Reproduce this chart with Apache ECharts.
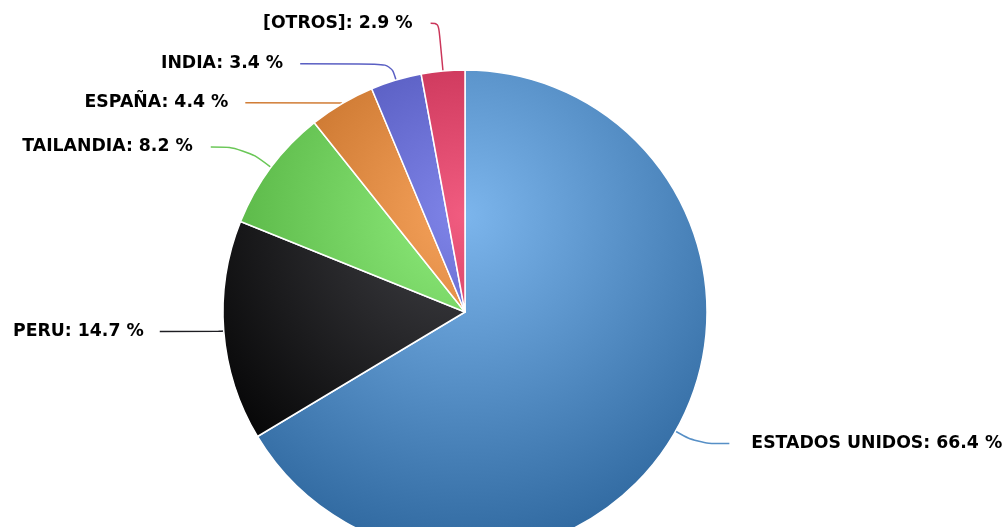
<!DOCTYPE html>
<html>
<head>
<meta charset="utf-8">
<script src="https://cdn.jsdelivr.net/npm/echarts@6/dist/echarts.min.js"></script>
<style>html,body{margin:0;padding:0;background:#fff;}#chart{width:1005px;height:527px;}</style>
</head>
<body>
<div id="chart"></div>
<script>
const categories = ['ESTADOS UNIDOS', 'PERU', 'TAILANDIA', 'ESPAÑA', 'INDIA', '[OTROS]'];
const shares = [66.4, 14.7, 8.2, 4.4, 3.4, 2.9];
const baseColors = ['#7cb5ec', '#434348', '#90ed7d', '#f7a35c', '#8085e9', '#f15c80'];
// connector lengths (radial, horizontal) per slice
const lineLen = [25, 5, 34, 1, 17, 48];
const lineLen2 = [32, 59, 33, 96, 91, 8];
const labelGap = [22, 16, 18, 17, 17, 18];

function darken(hex, amt) {
  const n = parseInt(hex.slice(1), 16);
  const c = [(n >> 16) & 255, (n >> 8) & 255, n & 255].map(v => Math.max(0, Math.min(255, Math.round(v - amt * 255))));
  return 'rgb(' + c.join(',') + ')';
}

const chart = echarts.init(document.getElementById('chart'), null, {renderer: 'canvas'});
const cx = 465, cy = 312, R = 242;
const data = categories.map((name, i) => ({
  name: name,
  value: shares[i],
  itemStyle: {
    color: new echarts.graphic.RadialGradient(cx, cy - 0.4 * R, 1.4 * R, [
      {offset: 0, color: baseColors[i]},
      {offset: 1, color: darken(baseColors[i], 0.3)}
    ], true)
  },
  label: {distanceToLabelLine: labelGap[i]},
  labelLine: {length: lineLen[i], length2: lineLen2[i], lineStyle: {color: darken(baseColors[i], 0.15)}}
}));

chart.setOption({
  animation: false,
  series: [{
    type: 'pie',
    center: [cx, cy],
    radius: R,
    startAngle: 90,
    clockwise: true,
    avoidLabelOverlap: false,
    data: data,
    itemStyle: {borderColor: '#ffffff', borderWidth: 1.5},
    label: {
      show: true,
      position: 'outside',
      formatter: p => p.name + ': ' + p.value.toFixed(1) + ' %',
      fontFamily: 'DejaVu Sans',
      fontWeight: 'bold',
      fontSize: 17.3,
      color: '#000'
    },
    labelLine: {show: true, smooth: 0.4, lineStyle: {width: 1.5}}
  }]
});
</script>
</body>
</html>
